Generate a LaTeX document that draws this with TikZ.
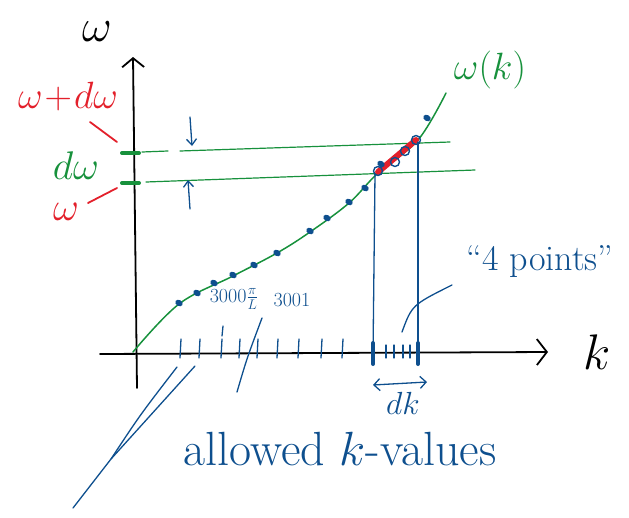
\documentclass[tikz,border=0pt]{standalone}
\usepackage{fix-cm}
\usetikzlibrary{arrows.meta, shapes.geometric}
\definecolor{inkblue}{HTML}{0E4F8E}
\definecolor{inkgreen}{HTML}{17913C}
\definecolor{inkred}{HTML}{E3202B}
\begin{document}
\begin{tikzpicture}[x=1pt, y=-1pt, line cap=round, line join=round,
    axis/.style={line width=1.8pt, black},
    level/.style={line width=1.2pt, inkgreen},
    ink/.style={line width=1.3pt, inkblue},
    dot/.style={ellipse, fill=inkblue, inner sep=0pt, minimum width=8pt, minimum height=6pt, rotate=-30},
    kpt/.style={circle, draw=inkblue, line width=1.4pt, inner sep=0pt, minimum size=9pt},
    lab/.style={inner sep=1pt}]
  \useasboundingbox (0,0) rectangle (629,517);
  % axes
  \draw[axis, -{Straight Barb[length=9pt, width=22pt]}] (137,388) -- (133,57);
  \draw[axis, -{Straight Barb[length=10pt, width=26pt]}] (100,354) -- (548,352);
  \node[lab] (omegalab) at (97,32) {\fontsize{46}{46}\selectfont$\omega$};
  \node[lab] (klab) at (597,352) {\fontsize{50}{50}\selectfont$k$};
  % dispersion curve w(k)
  \draw[level, line width=1.5pt] plot[smooth, tension=0.6] coordinates {(133,352) (179,304) (233,276) (277,253) (310,232) (349,203) (378,173) (418,140) (446,93)};
  \node[lab, inkgreen] (wklab) at (490,70) {\fontsize{38}{38}\selectfont$\omega(k)$};
  % levels w and w+dw
  \draw[level, line width=4pt] (122,153) -- (139,153);
  \draw[level, line width=4pt] (122,183) -- (139,183);
  \draw[level] (142,152) -- (168,151);
  \draw[level] (180,151) -- (450,142);
  \draw[level] (146,182) -- (475,170);
  \draw[ink, -{Straight Barb[length=6pt, width=10pt]}] (190,117) -- (192,146);
  \draw[ink, -{Straight Barb[length=6pt, width=10pt]}] (190,209) -- (188,180);
  \node[lab, inkred] (wdwlab) at (68,97) {\fontsize{38}{38}\selectfont$\omega\!+\!d\omega$};
  \node[lab, inkgreen] (dwlab) at (76,166) {\fontsize{40}{40}\selectfont$d\omega$};
  \node[lab, inkred] (wlab) at (66,212) {\fontsize{40}{40}\selectfont$\omega$};
  \draw[inkred, line width=1.8pt] (90,122) -- (117,142);
  \draw[inkred, line width=1.8pt] (117,188) -- (88,203);
  % slab dk
  \draw[inkred, line width=6pt] (378,172) -- (416,140);
  \draw[ink] (375,174) -- (373,355);
  \draw[ink] (418,142) -- (418,355);
  \foreach \p in {(378,171), (395,162), (405,151), (416,140)}
    \node[kpt] at \p {};
  \node[dot] at (381,164) {};
  % allowed points on the curve
  \foreach \p in {(179,303), (197,293), (214,283), (233,275), (254,265), (277,253),
                  (310,231), (327,218), (349,202), (365,188), (427,118)}
    \node[dot] at \p {};
  % allowed k-values on the axis
  \foreach \x in {180,199,221,239,257,277,298,321,342}
    \draw[ink] (\x+1,339) -- (\x,358);
  \foreach \x in {386,394,403,410}
    \draw[ink] (\x,345) -- (\x,358);
  \draw[ink, line width=4pt] (373,343) -- (373,364);
  \draw[ink, line width=4pt] (418,343) -- (418,364);
  \node[lab, inkblue] (n3000) at (234,299) {\fontsize{20}{20}\selectfont$3000\frac{\pi}{L}$};
  \node[lab, inkblue] (n3001) at (292,300) {\fontsize{20}{20}\selectfont$3001$};
  \draw[ink] (223,326) -- (222,336);
  \draw[ink] (237,392) .. controls (247,358) .. (262,318);
  % dk
  \draw[ink, {Straight Barb[length=6pt, width=12pt]}-{Straight Barb[length=6pt, width=12pt]}] (373,385) -- (427,382);
  \node[lab, inkblue] (dklab) at (403,403) {\fontsize{32}{32}\selectfont$dk$};
  \node[lab, inkblue] (pointslab) at (540,262) {\fontsize{36}{36}\selectfont``4 points''};
  \draw[ink] (402,332) .. controls (412,305) .. (452,285);
  % allowed k-values
  \node[lab, inkblue] (allowedlab) at (340,449) {\fontsize{48}{48}\selectfont allowed $k$-values};
  \coordinate (tail) at (73,508);
  \coordinate (fork) at (111,459);
  \draw[ink] (tail) -- (fork) .. controls (140,415) .. (177,367);
  \draw[ink] (fork) -- (195,366);
\end{tikzpicture}
\end{document}
